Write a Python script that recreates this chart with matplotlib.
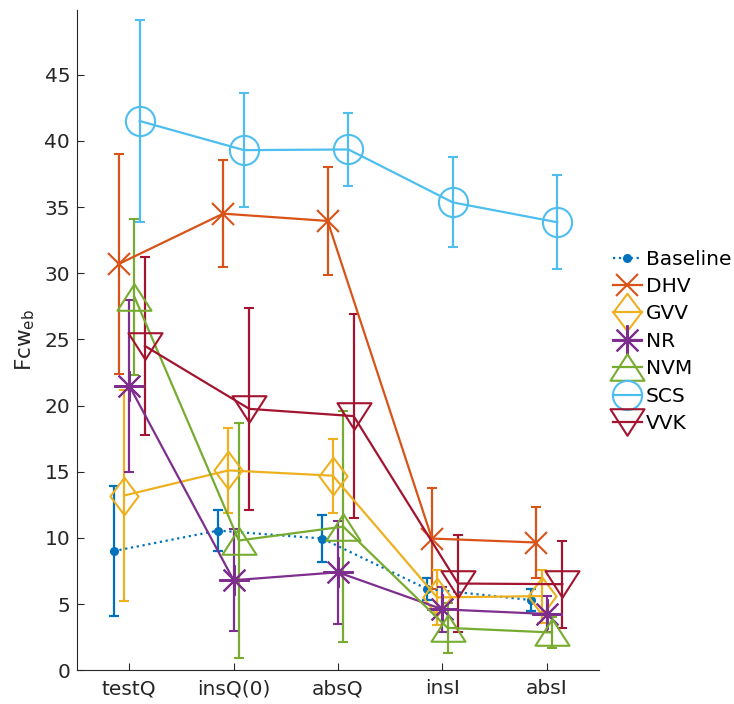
import numpy as np
import matplotlib
matplotlib.use('Agg')
import matplotlib.pyplot as plt
from matplotlib.path import Path

plt.rcParams['font.family'] = ['DejaVu Sans']
plt.rcParams['mathtext.fontset'] = 'dejavusans'

# conditions on the x axis
conditions = ['testQ', 'insQ(0)', 'absQ', 'insI', 'absI']

# mean and symmetric error per group
baseline_mean = [9.0, 10.55, 9.95, 6.15, 5.3]
baseline_err = [4.9, 1.55, 1.75, 0.85, 0.8]
dhv_mean = [30.7, 34.5, 33.95, 9.95, 9.65]
dhv_err = [8.3, 4.05, 4.05, 3.8, 2.65]
gvv_mean = [13.2, 15.1, 14.7, 5.5, 5.6]
gvv_err = [8.0, 3.2, 2.8, 2.1, 2.0]
nr_mean = [21.5, 6.8, 7.4, 4.6, 4.25]
nr_err = [6.5, 3.85, 3.9, 1.7, 1.35]
nvm_mean = [28.2, 9.8, 10.85, 3.2, 2.85]
nvm_err = [5.9, 8.9, 8.7, 1.9, 1.15]
scs_mean = [41.5, 39.3, 39.35, 35.35, 33.85]
scs_err = [7.6, 4.3, 2.75, 3.4, 3.55]
vvk_mean = [24.5, 19.75, 19.2, 6.55, 6.5]
vvk_err = [6.7, 7.65, 7.7, 3.7, 3.3]

groups = ['Baseline', 'DHV', 'GVV', 'NR', 'NVM', 'SCS', 'VVK']
means = [baseline_mean, dhv_mean, gvv_mean, nr_mean, nvm_mean, scs_mean, vvk_mean]
errs = [baseline_err, dhv_err, gvv_err, nr_err, nvm_err, scs_err, vvk_err]

colors = ['#0072BD', '#D95319', '#EDB120', '#7E2F8E', '#77AC30', '#4DBEEE', '#A2142F']

# MATLAB-like marker shapes
diamond = Path([(0, 1), (0.75, 0), (0, -1), (-0.75, 0), (0, 1)], closed=True)
tri_up = Path([(-1, -0.78), (1, -0.78), (0, 0.78), (-1, -0.78)], closed=True)
tri_down = Path([(-1, 0.78), (1, 0.78), (0, -0.78), (-1, 0.78)], closed=True)
markers = ['o', 'x', diamond, (8, 2, 0), tri_up, 'o', tri_down]
msizes = [5.5, 16.5, 27, 22, 24.5, 21, 24.5]

fig = plt.figure(figsize=(7.34, 7.04), dpi=100)
ax = fig.add_axes([0.105, 0.048, 0.711, 0.938])

x = np.arange(1, len(conditions) + 1)
handles = []
for k, g in enumerate(groups):
    xo = x + 0.05 * (k - 3)
    c = colors[k]
    if g == 'Baseline':
        cont = ax.errorbar(xo, means[k], yerr=errs[k], color=c, ls=':', lw=1.6,
                           elinewidth=1.6, capsize=3.5, capthick=1.6,
                           marker='o', ms=msizes[k], mfc=c, mec=c)
    else:
        cont = ax.errorbar(xo, means[k], yerr=errs[k], color=c, ls='-', lw=1.6,
                           elinewidth=1.6, capsize=3.5, capthick=1.6,
                           marker=markers[k], ms=msizes[k], mfc='none', mec=c, mew=1.5)
    handles.append(cont[0])

ax.set_xlim(0.5, 5.5)
ax.set_ylim(0, 49.9)
ax.set_xticks(x)
ax.set_xticklabels(conditions)
ax.set_yticks(np.arange(0, 50, 5))
for s in ['top', 'right']:
    ax.spines[s].set_visible(False)
for s in ['left', 'bottom']:
    ax.spines[s].set_color('#262626')
    ax.spines[s].set_linewidth(0.8)
ax.tick_params(direction='in', length=5, width=0.8, colors='#262626',
               labelsize=14.5, pad=5)
ax.tick_params(axis='x', pad=6.5)
ax.set_ylabel('Fcw$_{\\mathregular{eb}}$', fontsize=15.5, color='#262626', labelpad=5)

ax.legend(handles, groups, loc='center left', bbox_to_anchor=(0.835, 0.515),
          bbox_transform=fig.transFigure, frameon=False, fontsize=14.5,
          handlelength=1.45, handletextpad=0.2, labelspacing=0.42,
          borderpad=0, borderaxespad=0, numpoints=1)

plt.savefig('out.png', dpi=100)
plt.close()
